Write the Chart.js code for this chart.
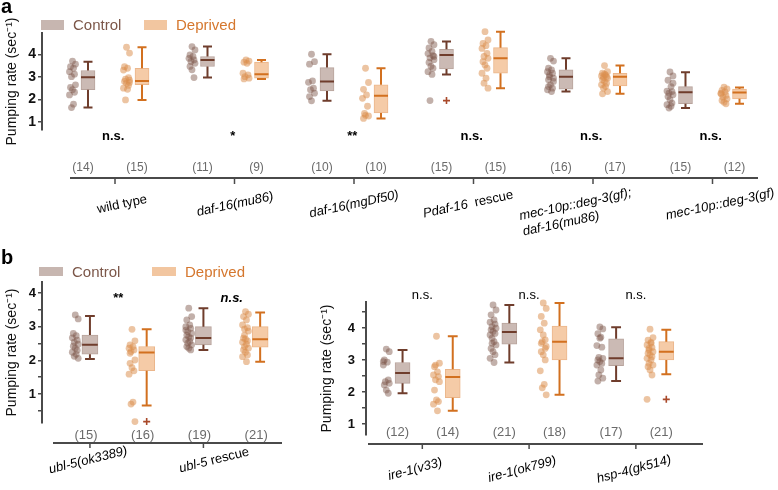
<!DOCTYPE html>
<html>
<head>
<meta charset="utf-8">
<script src="https://cdn.jsdelivr.net/npm/chart.js@4.4.1/dist/chart.umd.min.js"></script>
<style>
  body { margin: 0; background: #fff; width: 778px; height: 490px; position: relative; overflow: hidden; }
  canvas { position: absolute; }
  .xlabel { position: absolute; font: 13px "Liberation Sans", Arial, Helvetica, sans-serif; line-height: 16px;
            white-space: pre; color: #000; text-align: left; }
</style>
</head>
<body>
<canvas id="panelA" width="778" height="240" style="left:0px;top:0px"></canvas>
<canvas id="panelB1" width="300" height="250" style="left:0px;top:240px"></canvas>
<canvas id="panelB2" width="478" height="250" style="left:300px;top:240px"></canvas>
<script>
const FONT = '"Liberation Sans", Arial, Helvetica, sans-serif';

// ---- panel a ----
const aCategories = ['wild type', '_daf-16(mu86)_', '_daf-16(mgDf50)_', '_Pdaf-16_  rescue', '_mec-10p::deg-3(gf);_\n_daf-16(mu86)_', '_mec-10p::deg-3(gf)_'];
const aSignif = ['n.s.', '*', '**', 'n.s.', 'n.s.', 'n.s.'];
const aControlN = [14, 11, 10, 15, 16, 15];
const aDeprivedN = [15, 9, 10, 15, 17, 12];
// [min, q1, median, q3, max]
const aControlBox = [[1.64, 2.43, 2.98, 3.28, 3.67], [2.97, 3.46, 3.75, 3.90, 4.34], [1.94, 2.38, 2.79, 3.41, 4.00], [3.10, 3.35, 3.97, 4.22, 4.56], [2.35, 2.46, 3.01, 3.31, 3.82], [1.62, 1.81, 2.32, 2.57, 3.20]];
const aDeprivedBox = [[1.98, 2.65, 2.82, 3.38, 4.31], [2.91, 2.94, 3.12, 3.65, 3.75], [1.16, 1.40, 2.17, 2.65, 3.38], [2.50, 3.16, 3.82, 4.29, 5.00], [2.25, 2.60, 3.01, 3.16, 3.50], [1.81, 2.03, 2.31, 2.46, 2.53]];
const aControlDots = [
  [3.70, 3.56, 3.45, 3.38, 3.23, 3.12, 3.01, 2.65, 2.53, 2.43, 2.32, 2.20, 1.79, 1.64],
  [4.34, 4.19, 3.97, 3.90, 3.82, 3.75, 3.68, 3.60, 3.46, 3.31, 2.97],
  [4.00, 3.67, 3.56, 2.82, 2.76, 2.50, 2.43, 2.28, 2.13, 1.94],
  [4.57, 4.42, 4.28, 4.13, 4.03, 3.94, 3.84, 3.76, 3.64, 3.47, 3.38, 3.23, 3.11, 1.95, 3.90],
  [3.82, 3.70, 3.38, 3.31, 3.23, 3.16, 3.01, 2.94, 2.87, 2.65, 2.50, 2.43, 2.35, 3.09, 2.80, 2.57],
  [3.22, 3.04, 2.85, 2.57, 2.37, 2.35, 2.28, 2.21, 2.13, 1.99, 1.84, 1.77, 1.70, 1.62, 2.72]
];
const aDeprivedDots = [
  [4.31, 4.05, 3.45, 3.38, 3.30, 2.97, 2.90, 2.85, 2.80, 2.72, 2.62, 2.50, 2.45, 1.98, 2.75],
  [3.75, 3.70, 3.65, 3.60, 3.16, 3.09, 3.01, 2.94, 2.91],
  [3.38, 2.75, 2.45, 2.20, 2.05, 1.70, 1.38, 1.27, 1.16, 1.30],
  [5.00, 4.63, 4.48, 4.38, 4.26, 4.04, 3.90, 3.82, 3.67, 3.53, 3.38, 3.16, 2.94, 2.72, 2.50],
  [3.50, 3.23, 3.16, 3.09, 3.04, 3.01, 2.97, 2.94, 2.87, 2.79, 2.72, 2.65, 2.57, 2.50, 2.35, 2.25, 3.12],
  [2.55, 2.47, 2.40, 2.33, 2.25, 2.18, 2.10, 2.03, 1.96, 1.88, 1.81, 2.28]
];
const aControlOutliers = [[], [], [], [1.95], [], []];
const aDeprivedOutliers = [[], [], [], [], [], []];
const aYTicks = [1, 1.5, 2, 2.5, 3, 3.5, 4, 4.5];

// ---- panel b, left ----
const b1Categories = ['_ubl-5(ok3389)_', '_ubl-5_ rescue'];
const b1Signif = ['**', '_n.s._'];
const b1ControlN = [15, 19];
const b1DeprivedN = [16, 21];
const b1ControlBox = [[2.04, 2.18, 2.46, 2.75, 3.32], [2.31, 2.46, 2.66, 3.00, 3.55]];
const b1DeprivedBox = [[0.66, 1.69, 2.23, 2.41, 2.92], [1.96, 2.39, 2.63, 3.00, 3.42]];
const b1ControlDots = [
  [3.35, 3.23, 2.80, 2.73, 2.67, 2.60, 2.54, 2.48, 2.42, 2.36, 2.30, 2.24, 2.18, 2.12, 2.06],
  [3.55, 3.30, 3.20, 3.05, 3.00, 2.95, 2.85, 2.80, 2.75, 2.70, 2.66, 2.61, 2.56, 2.51, 2.46, 2.41, 2.36, 2.31, 2.90]
];
const b1DeprivedDots = [
  [2.92, 2.58, 2.46, 2.41, 2.36, 2.31, 2.26, 2.01, 1.91, 1.78, 1.69, 1.59, 0.76, 0.70, 0.18, 2.21],
  [3.45, 3.37, 3.30, 3.20, 3.05, 2.97, 2.93, 2.87, 2.66, 2.63, 2.58, 2.54, 2.48, 2.41, 2.36, 2.31, 2.24, 2.16, 2.11, 1.96, 2.75]
];
const b1ControlOutliers = [[], []];
const b1DeprivedOutliers = [[0.18], []];
const b1YTicks = [0.5, 1, 1.5, 2, 2.5, 3, 3.5, 4];

// ---- panel b, right ----
const b2Categories = ['_ire-1(v33)_', '_ire-1(ok799)_', '_hsp-4(gk514)_'];
const b2Signif = ['n.s.', 'n.s.', 'n.s.'];
const b2ControlN = [12, 21, 17];
const b2DeprivedN = [14, 18, 21];
const b2ControlBox = [[1.96, 2.27, 2.59, 2.92, 3.31], [2.92, 3.49, 3.87, 4.15, 4.72], [2.34, 2.82, 3.05, 3.66, 4.02]];
const b2DeprivedBox = [[1.41, 1.82, 2.47, 2.71, 3.74], [1.91, 3.00, 3.57, 4.06, 4.78], [2.55, 3.00, 3.26, 3.57, 3.94]];
const b2ControlDots = [
  [3.34, 3.26, 3.00, 2.93, 2.84, 2.38, 2.32, 2.27, 2.22, 2.06, 1.96, 2.95],
  [4.72, 4.56, 4.41, 4.25, 4.18, 4.12, 4.04, 3.99, 3.94, 3.89, 3.83, 3.78, 3.57, 3.52, 3.47, 3.36, 3.26, 3.16, 3.05, 2.92, 3.68],
  [4.03, 3.97, 3.82, 3.71, 3.45, 3.40, 3.08, 3.05, 3.00, 2.95, 2.89, 2.84, 2.69, 2.53, 2.43, 2.34, 3.68]
];
const b2DeprivedDots = [
  [3.74, 2.90, 2.79, 2.63, 2.53, 2.48, 2.38, 2.32, 2.06, 1.75, 1.70, 1.62, 1.41, 2.84],
  [4.78, 4.61, 4.36, 4.15, 3.94, 3.63, 3.57, 3.42, 3.26, 3.16, 3.00, 2.66, 2.24, 2.13, 1.91, 3.52, 3.78, 3.36],
  [3.96, 3.70, 3.62, 3.55, 3.47, 3.39, 3.31, 3.26, 3.21, 3.16, 3.10, 3.05, 3.00, 2.89, 2.84, 2.79, 2.69, 2.53, 1.77, 3.52, 3.36]
];
const b2ControlOutliers = [[], [], []];
const b2DeprivedOutliers = [[], [], [1.77]];
const b2YTicks = [1, 1.5, 2, 2.5, 3, 3.5, 4, 4.5];

// colours
const CTRL = { box: '#cbbab4', edge: '#b8a49d', line: '#6f3d2c', dot: 'rgba(125, 88, 74, 0.47)', text: '#7c5749', legend: '#c7b6b0' };
const DEP = { box: '#f5cba7', edge: '#ebb68b', line: '#d2701f', dot: 'rgba(218, 142, 76, 0.52)', text: '#d5772e', legend: '#f2c6a0' };
const OUTLIER = '#a9492a';
const AXIS = '#4a4a4a';
// small horizontal spread of the dots (px)
const JITTER = [0, 3, -2, 1, -3, 2, -1, 3, -2, 0, 2, -3, 1, -1, 3, -2, 0, 2, -3, 1, -1];

// layout of each panel (pixels inside its canvas)
const layoutA = {
  width: 778, height: 240, pad: { left: 0, top: 33, right: 8, bottom: 110 }, yWidth: 42,
  yMin: 0.65, yMax: 4.94, tickPad: 2, tickFont: 14, nFont: 12,
  x0: 115, unitPx: 119.5, ctrlOff: -0.226, depOff: 0.226, tickOff: 0, sigOff: -0.015,
  dotPx: -15.5, nPx: -5, barPx: 14, capPx: 4.5,
  axisY: 178, axisFrom: 70, axisTo: 758, tickLen: 6,
  nY: 168, sigY: 136, sigFont: 'bold 13px',
  labelY: 204, labelRot: -12, labelDx: [7, 0, 0, -6, -16, 7],
  letter: 'a', letterY: 13,
  legend: { y: 20, h: 10, w: 23, boxes: [41, 144] }
};
const layoutB1 = {
  width: 300, height: 250, pad: { left: 0, top: 42, right: 0, bottom: 67 }, yWidth: 42,
  yMin: 0.139, yMax: 4.327, tickPad: 2, tickFont: 13, nFont: 13,
  x0: 120, unitPx: 116, ctrlOff: -0.25, depOff: 0.25, tickOff: -0.25, sigOff: 0,
  dotPx: -15, nPx: -4, barPx: 16, capPx: 5,
  axisY: 203, axisFrom: 53, axisTo: 282, tickLen: 5,
  nY: 195, sigY: 58, sigFont: 'bold 13px',
  labelY: 220, labelRot: -14, labelDx: [-2, 11],
  letter: 'b', letterY: 24,
  legend: { y: 27, h: 9, w: 24, boxes: [39, 152] }
};
const layoutB2 = {
  width: 478, height: 250, pad: { left: 15, top: 62, right: 0, bottom: 55 }, yWidth: 51,
  yMin: 0.656, yMax: 4.81, tickPad: 7, tickFont: 13, nFont: 13,
  x0: 128.5, unitPx: 108.25, ctrlOff: -0.235, depOff: 0.235, tickOff: -0.05, sigOff: -0.05,
  dotPx: -16.5, nPx: -5, barPx: 15, capPx: 5,
  axisY: 204, axisFrom: 68, axisTo: 403, tickLen: 5,
  nY: 192, sigY: 55, sigFont: '13px',
  labelY: 229, labelRot: -15, labelDx: [-7, -7, -2],
  letter: null, legend: null
};

Chart.defaults.font.family = FONT;
Chart.defaults.color = '#111';

// unrotated text with _italic_ parts, centred on x
function drawRich(ctx, text, x, y, baseFont) {
  const segs = text.split('_').map((t, k) => ({ t, font: (k % 2 ? 'italic ' : '') + baseFont + ' ' + FONT })).filter(s => s.t);
  ctx.textAlign = 'left';
  ctx.textBaseline = 'middle';
  const w = segs.reduce((sum, s) => { ctx.font = s.font; return sum + ctx.measureText(s.t).width; }, 0);
  let cx = x - w / 2;
  segs.forEach(s => {
    ctx.font = s.font;
    ctx.fillText(s.t, cx, y);
    cx += ctx.measureText(s.t).width;
  });
}

// rotated category labels as page text on top of the canvas
function placeLabels(chart, d, L) {
  if (chart.$labelsPlaced) return;
  chart.$labelsPlaced = true;
  const xs = chart.scales.x;
  const canvas = chart.canvas;
  const left = parseFloat(canvas.style.left) || 0;
  const top = parseFloat(canvas.style.top) || 0;
  d.categories.forEach((cat, i) => {
    const lines = cat.split('\n');
    const el = document.createElement('div');
    el.className = 'xlabel';
    el.innerHTML = lines.map(line => line.split('_').map((t, k) => k % 2 ? '<i>' + t + '</i>' : t).join('')).join('<br>');
    el.style.left = (left + xs.getPixelForValue(i + L.tickOff) + L.labelDx[i]) + 'px';
    el.style.top = (top + L.labelY + (lines.length - 1) * 8) + 'px';
    el.style.transform = 'translate(-50%, -50%) rotate(' + L.labelRot + 'deg)';
    document.body.appendChild(el);
  });
}

function decorPlugin(d, L) {
  return {
    id: 'decor',
    afterDraw(chart) {
      const ctx = chart.ctx;
      const xs = chart.scales.x;
      ctx.save();
      ctx.fillStyle = '#000';
      if (L.letter) {
        ctx.font = 'bold 20px ' + FONT;
        ctx.textAlign = 'left';
        ctx.textBaseline = 'alphabetic';
        ctx.fillText(L.letter, 1, L.letterY);
      }
      if (L.legend) {
        const lg = L.legend;
        [[CTRL, 'Control'], [DEP, 'Deprived']].forEach(([c, name], k) => {
          ctx.fillStyle = c.legend;
          ctx.fillRect(lg.boxes[k], lg.y, lg.w, lg.h);
          ctx.fillStyle = c.text;
          ctx.font = '15px ' + FONT;
          ctx.textAlign = 'left';
          ctx.textBaseline = 'middle';
          ctx.fillText(name, lg.boxes[k] + lg.w + 9, lg.y + lg.h / 2 + 1);
        });
      }
      // x axis
      ctx.strokeStyle = AXIS;
      ctx.lineWidth = 2;
      ctx.beginPath();
      ctx.moveTo(L.axisFrom, L.axisY);
      ctx.lineTo(L.axisTo, L.axisY);
      ctx.stroke();
      d.categories.forEach((cat, i) => {
        const tx = xs.getPixelForValue(i + L.tickOff);
        ctx.lineWidth = 1.5;
        ctx.beginPath();
        ctx.moveTo(tx, L.axisY);
        ctx.lineTo(tx, L.axisY + L.tickLen);
        ctx.stroke();
        // group sizes
        ctx.fillStyle = '#6a6a6a';
        ctx.font = L.nFont + 'px ' + FONT;
        ctx.textAlign = 'center';
        ctx.textBaseline = 'middle';
        ctx.fillText('(' + d.controlN[i] + ')', xs.getPixelForValue(i + L.ctrlOff) + L.nPx, L.nY);
        ctx.fillText('(' + d.deprivedN[i] + ')', xs.getPixelForValue(i + L.depOff) + L.nPx, L.nY);
        // significance
        ctx.fillStyle = '#000';
        drawRich(ctx, d.signif[i], xs.getPixelForValue(i + L.sigOff), L.sigY, L.sigFont);
      });
      ctx.restore();
      placeLabels(chart, d, L);
    }
  };
}

function makePanel(id, d, L) {
  const u = px => px / L.unitPx;
  const chartLeft = L.pad.left + L.yWidth;
  const chartRight = L.width - L.pad.right;
  const posC = i => i + L.ctrlOff;
  const posD = i => i + L.depOff;

  const boxes = [];
  const boxColors = [];
  const boxEdges = [];
  d.controlBox.forEach((b, i) => { boxes.push({ x: posC(i), y: [b[1], b[3]] }); boxColors.push(CTRL.box); boxEdges.push(CTRL.edge); });
  d.deprivedBox.forEach((b, i) => { boxes.push({ x: posD(i), y: [b[1], b[3]] }); boxColors.push(DEP.box); boxEdges.push(DEP.edge); });

  const whiskers = (stats, pos) => stats.flatMap((b, i) => {
    const x = pos(i), c = u(L.capPx);
    return [
      { x, y: b[3] }, { x, y: b[4] }, { x, y: null },
      { x, y: b[1] }, { x, y: b[0] }, { x, y: null },
      { x: x - c, y: b[4] }, { x: x + c, y: b[4] }, { x, y: null },
      { x: x - c, y: b[0] }, { x: x + c, y: b[0] }, { x, y: null }
    ];
  });
  const medians = (stats, pos) => stats.flatMap((b, i) => {
    const x = pos(i), h = u(L.barPx / 2);
    return [{ x: x - h, y: b[2] }, { x: x + h, y: b[2] }, { x, y: null }];
  });
  const dots = (groups, pos) => groups.flatMap((vals, i) =>
    vals.map((v, k) => ({ x: pos(i) + u(L.dotPx + JITTER[k % JITTER.length]), y: v })));
  const outliers = (groups, pos) => groups.flatMap((vals, i) => vals.map(v => ({ x: pos(i), y: v })));

  const lineSet = (label, data, color, order) => ({
    type: 'scatter', label, data, showLine: true, spanGaps: false, pointRadius: 0,
    borderColor: color, borderWidth: 2, borderCapStyle: 'butt', clip: false, order
  });

  new Chart(document.getElementById(id), {
    type: 'scatter',
    data: {
      datasets: [
        { type: 'bar', label: 'boxes', data: boxes, backgroundColor: boxColors, borderColor: boxEdges,
          borderWidth: 1, borderSkipped: false, barThickness: L.barPx, clip: false, order: 5 },
        lineSet('Control whiskers', whiskers(d.controlBox, posC), CTRL.line, 4),
        lineSet('Deprived whiskers', whiskers(d.deprivedBox, posD), DEP.line, 4),
        lineSet('Control median', medians(d.controlBox, posC), CTRL.line, 3),
        lineSet('Deprived median', medians(d.deprivedBox, posD), DEP.line, 3),
        { type: 'scatter', label: 'Control', data: dots(d.controlDots, posC), pointRadius: 3.4,
          backgroundColor: CTRL.dot, borderWidth: 0, clip: false, order: 2 },
        { type: 'scatter', label: 'Deprived', data: dots(d.deprivedDots, posD), pointRadius: 3.4,
          backgroundColor: DEP.dot, borderWidth: 0, clip: false, order: 2 },
        { type: 'scatter', label: 'outliers',
          data: outliers(d.controlOutliers, posC).concat(outliers(d.deprivedOutliers, posD)),
          pointStyle: 'cross', pointRadius: 3.5, borderColor: OUTLIER, borderWidth: 1.6, clip: false, order: 1 }
      ]
    },
    options: {
      responsive: false,
      animation: false,
      events: [],
      layout: { padding: L.pad },
      plugins: { legend: { display: false }, tooltip: { enabled: false } },
      scales: {
        x: {
          type: 'linear', display: false, offset: false,
          min: (chartLeft - L.x0) / L.unitPx, max: (chartRight - L.x0) / L.unitPx
        },
        y: {
          type: 'linear', min: L.yMin, max: L.yMax,
          afterBuildTicks: s => { s.ticks = d.yTicks.map(value => ({ value })); },
          afterFit: s => { s.width = L.yWidth; },
          grid: { drawOnChartArea: false, drawTicks: true, tickLength: 4, color: AXIS, lineWidth: 1.5 },
          border: { display: true, color: AXIS, width: 2 },
          ticks: {
            padding: L.tickPad, color: '#111',
            font: { size: L.tickFont, weight: 'bold' },
            callback: v => Number.isInteger(v) ? String(v) : ''
          },
          title: { display: true, text: 'Pumping rate (sec⁻¹)', color: '#111', font: { size: 14 }, padding: { top: 4, bottom: 4 } }
        }
      }
    },
    plugins: [decorPlugin(d, L)]
  });
}

makePanel('panelA', {
  categories: aCategories, signif: aSignif, controlN: aControlN, deprivedN: aDeprivedN,
  controlBox: aControlBox, deprivedBox: aDeprivedBox, controlDots: aControlDots, deprivedDots: aDeprivedDots,
  controlOutliers: aControlOutliers, deprivedOutliers: aDeprivedOutliers, yTicks: aYTicks
}, layoutA);

makePanel('panelB1', {
  categories: b1Categories, signif: b1Signif, controlN: b1ControlN, deprivedN: b1DeprivedN,
  controlBox: b1ControlBox, deprivedBox: b1DeprivedBox, controlDots: b1ControlDots, deprivedDots: b1DeprivedDots,
  controlOutliers: b1ControlOutliers, deprivedOutliers: b1DeprivedOutliers, yTicks: b1YTicks
}, layoutB1);

makePanel('panelB2', {
  categories: b2Categories, signif: b2Signif, controlN: b2ControlN, deprivedN: b2DeprivedN,
  controlBox: b2ControlBox, deprivedBox: b2DeprivedBox, controlDots: b2ControlDots, deprivedDots: b2DeprivedDots,
  controlOutliers: b2ControlOutliers, deprivedOutliers: b2DeprivedOutliers, yTicks: b2YTicks
}, layoutB2);
</script>
</body>
</html>
